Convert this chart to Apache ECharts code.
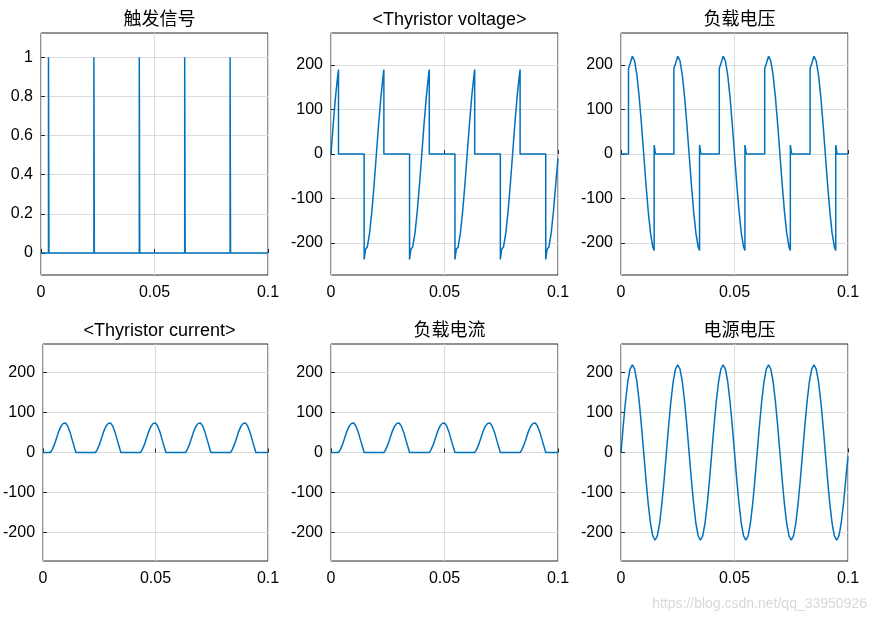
<!DOCTYPE html>
<html><head><meta charset="utf-8">
<script src="https://cdn.jsdelivr.net/npm/echarts@6/dist/echarts.min.js"></script>
<style>html,body{margin:0;background:#fff}#c{width:875px;height:619px}</style>
</head><body><div id="c"></div>
<script>
const titles = ['触发信号','<Thyristor voltage>','负载电压','<Thyristor current>','负载电流','电源电压'];
const triggerTicks = [0,0.2,0.4,0.6,0.8,1];
const voltTicks = [-200,-100,0,100,200];
const period = 0.02, nPeriods = 5;
// one period of each waveform: [t, value]
const triggerPeriod = [[0,0],[0.0033,0],[0.0033,1],[0.0035,1],[0.0035,0]];
const thyVoltPeriod = [[0,0],[0.001,68],[0.002,129],[0.003,178],[0.0033,190],[0.0033,0],[0.0146,0],[0.0146,-237],[0.0152,-214],[0.016,-209],[0.017,-178],[0.018,-129],[0.019,-68]];
const loadVoltPeriod = [[0,0],[0.0033,0],[0.0033,192],[0.004,203],[0.005,220],[0.006,209],[0.007,178],[0.008,129],[0.009,68],[0.010,0],[0.011,-68],[0.012,-129],[0.013,-178],[0.014,-209],[0.0146,-217],[0.0146,20],[0.0152,0]];
const currentPeriod = [[0,0],[0.0033,0],[0.004,6],[0.005,19],[0.006,36],[0.007,53],[0.008,66],[0.009,73],[0.0095,75],[0.010,74],[0.011,66],[0.012,51],[0.013,31],[0.014,12],[0.0146,0]];
const sourcePeriod = [[0,0],[0.001,68],[0.002,129],[0.003,178],[0.004,209],[0.005,220],[0.006,209],[0.007,178],[0.008,129],[0.009,68],[0.010,0],[0.011,-68],[0.012,-129],[0.013,-178],[0.014,-209],[0.015,-220],[0.016,-209],[0.017,-178],[0.018,-129],[0.019,-68]];
const endValues = [0, -10, 0, 0, 0, -10];

function repeat(p, endV){
  const out=[];
  for(let k=0;k<nPeriods;k++) p.forEach(([t,v])=>out.push([+(t+k*period).toFixed(5),v]));
  out.push([0.1,endV]); return out;
}
const seriesData = [triggerPeriod,thyVoltPeriod,loadVoltPeriod,currentPeriod,currentPeriod,sourcePeriod].map((p,i)=>repeat(p,endValues[i]));

const lefts=[41,331,621], tops=[33,344], w=227, h=[242,217];
const font='"Liberation Sans","Noto Sans CJK SC",Arial,sans-serif';
const grid=[],xAxis=[],yAxis=[],series=[],title=[];
for(let i=0;i<6;i++){
  const r=Math.floor(i/3), c=i%3;
  grid.push({left:lefts[c],top:tops[r],width:w,height:h[r],show:true,borderColor:'#262626',borderWidth:1,backgroundColor:'#fff'});
  title.push({text:titles[i],left:lefts[c]+w/2,top:tops[r]-27,textAlign:'center',textStyle:{fontFamily:font,fontSize:18,fontWeight:'normal',color:'#000'}});
  xAxis.push({type:'value',gridIndex:i,min:0,max:0.1,interval:0.05,
    axisLine:{show:false},axisTick:{inside:true,length:4,lineStyle:{color:'#262626'}},
    splitLine:{lineStyle:{color:'#dcdcdc'}},
    axisLabel:{fontFamily:font,fontSize:16,color:'#000',margin:10,formatter:v=>String(v)}});
  const trig=i===0, ticks=trig?triggerTicks:voltTicks;
  yAxis.push({type:'value',gridIndex:i,min:trig?-0.113:-272,max:trig?1.124:272,
    axisLine:{show:false},
    axisTick:{inside:true,length:4,customValues:ticks,lineStyle:{color:'#262626'}},
    splitLine:{lineStyle:{color:'#dcdcdc'}},
    axisLabel:{fontFamily:font,fontSize:16,color:'#000',margin:8,customValues:ticks,formatter:v=>String(v)}});
  series.push({type:'line',xAxisIndex:i,yAxisIndex:i,data:seriesData[i],showSymbol:false,
    lineStyle:{color:'#0072bd',width:1.5},animation:false});
}
echarts.init(document.getElementById('c')).setOption({animation:false,title,grid,xAxis,yAxis,series,
  graphic:[{type:'text',right:8,bottom:8,style:{text:'https://blog.csdn.net/qq_33950926',fill:'#d8d8d8',font:'14px '+font}}]});
</script></body></html>
